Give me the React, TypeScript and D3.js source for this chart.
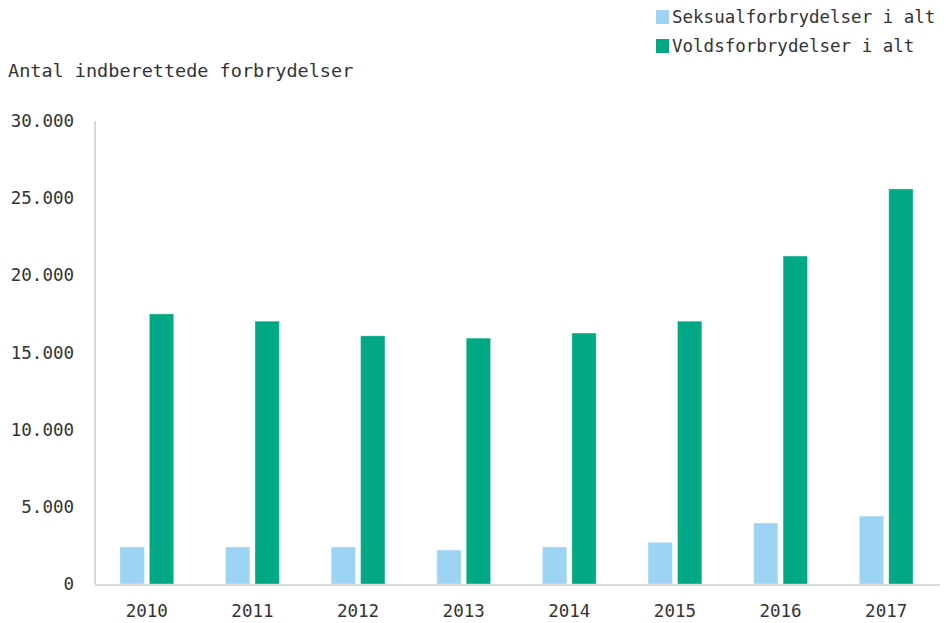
import React, { useEffect, useRef } from "react";
import * as d3 from "d3";

const years = ["2010", "2011", "2012", "2013", "2014", "2015", "2016", "2017"];
const seksual = [2400, 2400, 2400, 2200, 2400, 2700, 3950, 4400];
const volds = [17500, 17030, 16080, 15930, 16260, 17030, 21250, 25600];
const seriesNames = ["Seksualforbrydelser i alt", "Voldsforbrydelser i alt"];
const colors = ["#9dd3f3", "#00a884"];
const yTicks = [0, 5000, 10000, 15000, 20000, 25000, 30000];

const W = 946;
const H = 623;
const margin = { left: 95, right: 6, top: 121, bottom: 39 };
const font = "'DejaVu Sans Mono', 'Liberation Mono', monospace";
const textColor = "#333";

const App = () => {
  const ref = useRef<SVGGElement>(null);

  useEffect(() => {
    const g = d3.select(ref.current);
    g.selectAll("*").remove();

    const x = d3
      .scaleBand()
      .domain(years)
      .range([margin.left, W - margin.right])
      .paddingInner(0)
      .paddingOuter(0);
    const x1 = d3
      .scaleBand()
      .domain(seriesNames)
      .range([0, x.bandwidth()])
      .paddingInner(0.172)
      .paddingOuter(0.88);
    const y = d3
      .scaleLinear()
      .domain([0, 30000])
      .range([H - margin.bottom, margin.top]);

    const fmt = (v: number) => d3.format(",")(v).replace(/,/g, ".");

    // axis lines
    g.append("line")
      .attr("x1", margin.left)
      .attr("x2", margin.left)
      .attr("y1", y(30000))
      .attr("y2", y(0))
      .attr("stroke", "#d9d9d9")
      .attr("stroke-width", 2);

    // bars
    const data = [seksual, volds];
    data.forEach((vals, si) => {
      g.append("g")
        .selectAll("rect")
        .data(vals)
        .enter()
        .append("rect")
        .attr("x", (d, i) => (x(years[i]) as number) + (x1(seriesNames[si]) as number) - 1)
        .attr("width", x1.bandwidth())
        .attr("y", d => y(d))
        .attr("height", d => y(0) - y(d))
        .attr("fill", colors[si])
        .attr("stroke", "rgba(255,255,255,0.35)")
        .attr("stroke-width", 1);
    });

    g.append("line")
      .attr("x1", margin.left)
      .attr("x2", W - margin.right)
      .attr("y1", y(0) + 1)
      .attr("y2", y(0) + 1)
      .attr("stroke", "#d9d9d9")
      .attr("stroke-width", 2);

    // y tick labels
    g.append("g")
      .selectAll("text")
      .data(yTicks)
      .enter()
      .append("text")
      .attr("x", 74)
      .attr("y", d => y(d))
      .attr("dy", "0.35em")
      .attr("text-anchor", "end")
      .attr("font-family", font)
      .attr("font-size", 17.5)
      .attr("fill", textColor)
      .text(d => fmt(d));

    // x labels
    g.append("g")
      .selectAll("text")
      .data(years)
      .enter()
      .append("text")
      .attr("x", d => (x(d) as number) + x.bandwidth() / 2 - 1)
      .attr("y", 611)
      .attr("dy", "0.35em")
      .attr("text-anchor", "middle")
      .attr("font-family", font)
      .attr("font-size", 17.5)
      .attr("fill", textColor)
      .text(d => d);

    // title
    g.append("text")
      .attr("x", 8)
      .attr("y", 71)
      .attr("dy", "0.35em")
      .attr("font-family", font)
      .attr("font-size", 18.5)
      .attr("fill", textColor)
      .text("Antal indberettede forbrydelser");

    // legend
    const leg = g
      .append("g")
      .selectAll("g")
      .data(seriesNames)
      .enter()
      .append("g")
      .attr("transform", (d, i) => `translate(656, ${17 + i * 29})`);
    leg
      .append("rect")
      .attr("x", 0)
      .attr("y", -7)
      .attr("width", 13)
      .attr("height", 14)
      .attr("fill", (d, i) => colors[i]);
    leg
      .append("text")
      .attr("x", 16)
      .attr("y", 0)
      .attr("dy", "0.35em")
      .attr("font-family", font)
      .attr("font-size", 17.5)
      .attr("fill", textColor)
      .text(d => d);
  }, []);

  return (
    <svg
      width={W}
      height={H}
      style={{ position: "absolute", left: 0, top: 0, background: "#fff" }}
    >
      <g ref={ref} />
    </svg>
  );
};

export default App;
